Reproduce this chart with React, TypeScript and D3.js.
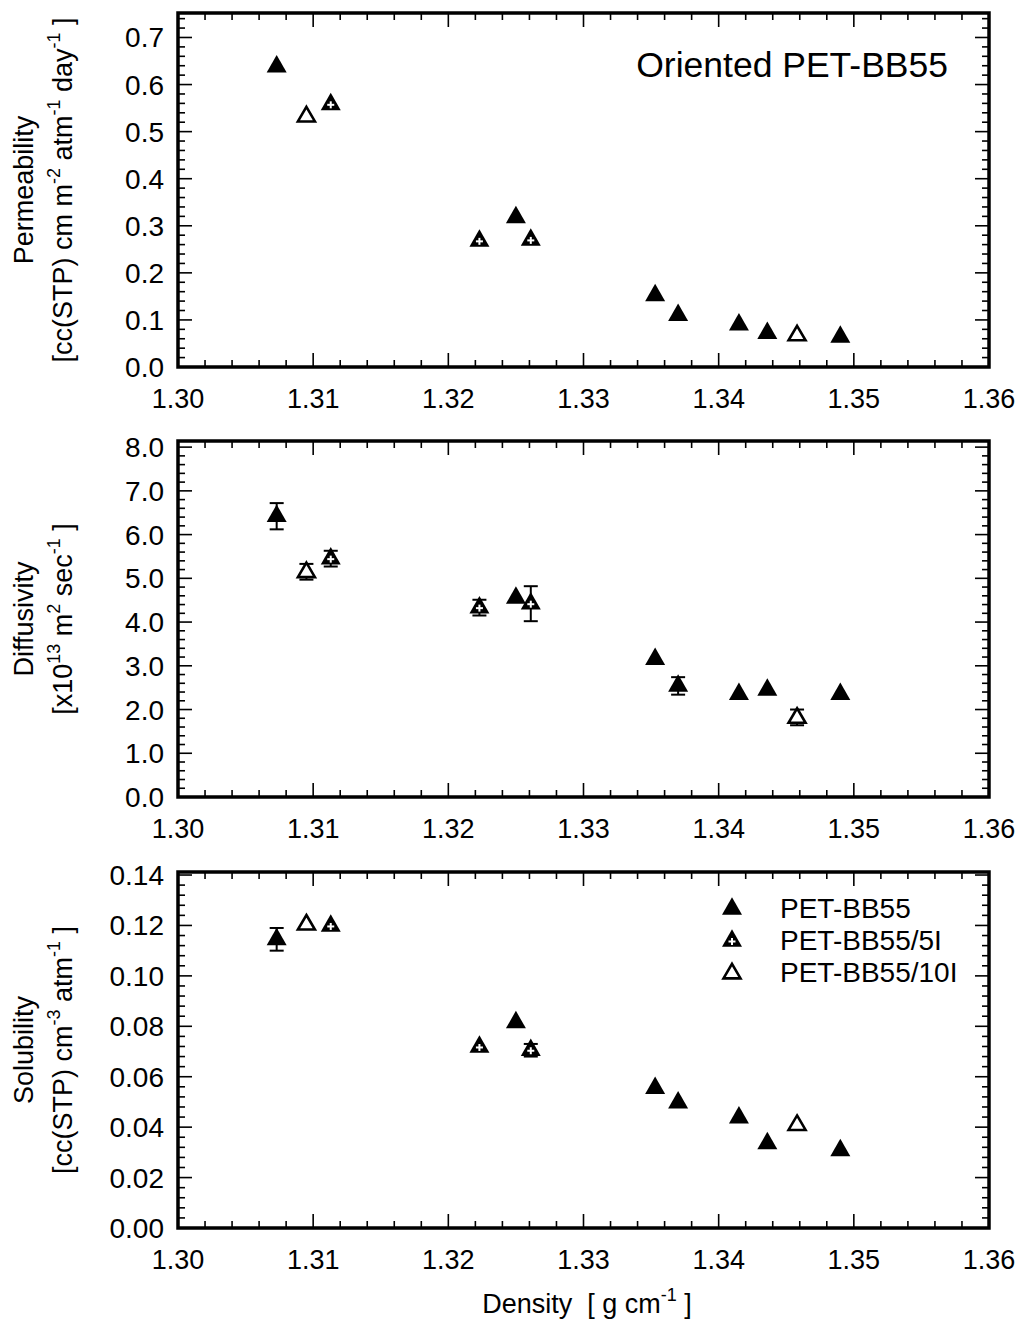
import React from "react";
import * as d3 from "d3";

// ---------- data ----------
const densityBB55 = [1.3073, 1.325, 1.3353, 1.337, 1.3415, 1.3436, 1.349];
const density5I = [1.3113, 1.3223, 1.3261];
const density10I = [1.3095, 1.3458];

const permBB55 = [0.638, 0.318, 0.152, 0.11, 0.09, 0.072, 0.064];
const perm5I = [0.558, 0.268, 0.27];
const perm10I = [0.533, 0.068];

const diffBB55 = [6.42, 4.55, 3.15, 2.54, 2.35, 2.45, 2.35];
const diffErrBB55 = [0.3, 0, 0, 0.2, 0, 0, 0];
const diff5I = [5.45, 4.33, 4.42];
const diffErr5I = [0.18, 0.18, 0.4];
const diff10I = [5.15, 1.82];
const diffErr10I = [0.18, 0.18];

const solBB55 = [0.1145, 0.0815, 0.0555, 0.0497, 0.0438, 0.0335, 0.0308];
const solErrBB55 = [0.0045, 0, 0, 0, 0, 0, 0];
const sol5I = [0.1198, 0.0718, 0.0705];
const solErr5I = [0, 0, 0.0025];
const sol10I = [0.1205, 0.041];
const solErr10I = [0, 0];

const xTicks = [1.3, 1.31, 1.32, 1.33, 1.34, 1.35, 1.36];
const permTicks = [0, 0.1, 0.2, 0.3, 0.4, 0.5, 0.6, 0.7];
const diffTicks = [0, 1, 2, 3, 4, 5, 6, 7, 8];
const solTicks = [0, 0.02, 0.04, 0.06, 0.08, 0.1, 0.12, 0.14];

const legendLabels = ["PET-BB55", "PET-BB55/5I", "PET-BB55/10I"];

// ---------- layout ----------
const W = 1018;
const H = 1322;
const LEFT = 178;
const RIGHT = 989;
const FONT = "'Liberation Sans', Arial, Helvetica, sans-serif";

const x = d3.scaleLinear().domain([1.3, 1.36]).range([LEFT, RIGHT]);

type Kind = "filled" | "cross" | "open";

function Marker({ cx, cy, kind }: { cx: number; cy: number; kind: Kind }) {
  const w = 20;
  const h = 17.5;
  const top = cy - (2 * h) / 3;
  const base = cy + h / 3;
  if (kind === "open") {
    const w2 = w - 3;
    const h2 = h - 3;
    const t2 = cy - (2 * h2) / 3 + 0.5;
    const b2 = cy + h2 / 3 + 0.5;
    return (
      <path
        d={`M${cx},${t2}L${cx + w2 / 2},${b2}L${cx - w2 / 2},${b2}Z`}
        fill="#fff"
        stroke="#000"
        strokeWidth={2.6}
        strokeLinejoin="miter"
      />
    );
  }
  return (
    <g>
      <path d={`M${cx},${top}L${cx + w / 2},${base}L${cx - w / 2},${base}Z`} fill="#000" />
      {kind === "cross" && (
        <g stroke="#fff" strokeWidth={2}>
          <line x1={cx - 3.5} x2={cx + 3.5} y1={cy + 0.5} y2={cy + 0.5} />
          <line x1={cx} x2={cx} y1={cy - 3} y2={cy + 4} />
        </g>
      )}
    </g>
  );
}

function ErrBar({ cx, y1, y2 }: { cx: number; y1: number; y2: number }) {
  return (
    <g stroke="#000" strokeWidth={2}>
      <line x1={cx} x2={cx} y1={y1} y2={y2} />
      <line x1={cx - 7} x2={cx + 7} y1={y1} y2={y1} />
      <line x1={cx - 7} x2={cx + 7} y1={y2} y2={y2} />
    </g>
  );
}

interface Series {
  xs: number[];
  ys: number[];
  errs?: number[];
  kind: Kind;
}

interface PanelProps {
  top: number;
  bottom: number;
  domainMax: number;
  ticks: number[];
  minorStep: number;
  decimals: number;
  series: Series[];
  title1: React.ReactNode;
  title2: React.ReactNode;
  children?: React.ReactNode;
}

function Panel({ top, bottom, domainMax, ticks, minorStep, decimals, series, title1, title2, children }: PanelProps) {
  const y = d3.scaleLinear().domain([0, domainMax]).range([bottom, top]);
  const majorLen = 14;
  const minorLen = 7;
  const xMinor = d3.range(1.3, 1.36 + 1e-9, 0.002);
  const yMinor = d3.range(0, domainMax + 1e-9, minorStep);
  const isMajorX = (v: number) => Math.abs(v * 100 - Math.round(v * 100)) < 1e-6;
  const isMajorY = (v: number) => ticks.some((t) => Math.abs(t - v) < minorStep * 0.1);
  const cy = (top + bottom) / 2;
  return (
    <g>
      {/* ticks */}
      <g stroke="#000" strokeWidth={1.6}>
        {xMinor.map((v, i) => {
          const len = isMajorX(v) ? majorLen : minorLen;
          const px = x(v);
          return (
            <g key={"x" + i}>
              <line x1={px} x2={px} y1={bottom} y2={bottom - len} />
              <line x1={px} x2={px} y1={top} y2={top + len} />
            </g>
          );
        })}
        {yMinor.map((v, i) => {
          const len = isMajorY(v) ? majorLen : minorLen;
          const py = y(v);
          return (
            <g key={"y" + i}>
              <line x1={LEFT} x2={LEFT + len} y1={py} y2={py} />
              <line x1={RIGHT} x2={RIGHT - len} y1={py} y2={py} />
            </g>
          );
        })}
      </g>
      <rect x={LEFT} y={top} width={RIGHT - LEFT} height={bottom - top} fill="none" stroke="#000" strokeWidth={3.5} />
      {/* tick labels */}
      <g fontFamily={FONT} fill="#000">
        {xTicks.map((t) => (
          <text key={t} x={x(t)} y={bottom + 41} textAnchor="middle" fontSize={27}>
            {t.toFixed(2)}
          </text>
        ))}
        {ticks.map((t) => (
          <text key={t} x={164} y={y(t) + 10} textAnchor="end" fontSize={28}>
            {t.toFixed(decimals)}
          </text>
        ))}
      </g>
      {/* axis titles */}
      <g fontFamily={FONT} fontSize={27} fill="#000">
        <text transform={`translate(33,${cy}) rotate(-90)`} textAnchor="middle">
          {title1}
        </text>
        <text transform={`translate(72,${cy}) rotate(-90)`} textAnchor="middle">
          {title2}
        </text>
      </g>
      {/* data */}
      {series.map((s, si) => (
        <g key={si}>
          {s.xs.map((d, i) => {
            const e = s.errs ? s.errs[i] : 0;
            return e > 0 ? <ErrBar key={"e" + i} cx={x(d)} y1={y(s.ys[i] + e)} y2={y(s.ys[i] - e)} /> : null;
          })}
          {s.xs.map((d, i) => (
            <Marker key={i} cx={x(d)} cy={y(s.ys[i])} kind={s.kind} />
          ))}
        </g>
      ))}
      {children}
    </g>
  );
}

const Sup = ({ children }: { children: React.ReactNode }) => (
  <>
    <tspan dy={-12} fontSize={18}>
      {children}
    </tspan>
    <tspan dy={12}>{"\u00A0"}</tspan>
  </>
);

export default function App() {
  const kinds: Kind[] = ["filled", "cross", "open"];
  return (
    <svg
      width={W}
      height={H}
      viewBox={`0 0 ${W} ${H}`}
      style={{ position: "absolute", left: 0, top: 0, background: "#fff" }}
    >
      <rect x={0} y={0} width={W} height={H} fill="#fff" />
      <Panel
        top={13}
        bottom={367}
        domainMax={0.752}
        ticks={permTicks}
        minorStep={0.02}
        decimals={1}
        series={[
          { xs: densityBB55, ys: permBB55, kind: "filled" },
          { xs: density5I, ys: perm5I, kind: "cross" },
          { xs: density10I, ys: perm10I, kind: "open" },
        ]}
        title1="Permeability"
        title2={
          <>
            [cc(STP) cm m<Sup>-2</Sup>atm<Sup>-1</Sup>day<Sup>-1</Sup>]
          </>
        }
      >
        <text x={948} y={77} textAnchor="end" fontFamily={FONT} fontSize={35.5} fill="#000">
          Oriented PET-BB55
        </text>
      </Panel>
      <Panel
        top={441}
        bottom={797}
        domainMax={8.14}
        ticks={diffTicks}
        minorStep={0.2}
        decimals={1}
        series={[
          { xs: densityBB55, ys: diffBB55, errs: diffErrBB55, kind: "filled" },
          { xs: density5I, ys: diff5I, errs: diffErr5I, kind: "cross" },
          { xs: density10I, ys: diff10I, errs: diffErr10I, kind: "open" },
        ]}
        title1="Diffusivity"
        title2={
          <>
            [x10<Sup>13</Sup>m<Sup>2</Sup>sec<Sup>-1</Sup>]
          </>
        }
      />
      <Panel
        top={872}
        bottom={1228}
        domainMax={0.1412}
        ticks={solTicks}
        minorStep={0.004}
        decimals={2}
        series={[
          { xs: densityBB55, ys: solBB55, errs: solErrBB55, kind: "filled" },
          { xs: density5I, ys: sol5I, errs: solErr5I, kind: "cross" },
          { xs: density10I, ys: sol10I, errs: solErr10I, kind: "open" },
        ]}
        title1="Solubility"
        title2={
          <>
            [cc(STP) cm<Sup>-3</Sup>atm<Sup>-1</Sup>]
          </>
        }
      >
        <g>
          {legendLabels.map((lab, i) => (
            <g key={lab}>
              <Marker cx={732} cy={909 + i * 32} kind={kinds[i]} />
              <text x={780} y={918 + i * 32} fontFamily={FONT} fontSize={28} fill="#000">
                {lab}
              </text>
            </g>
          ))}
        </g>
      </Panel>
      <text x={587} y={1313} textAnchor="middle" fontFamily={FONT} fontSize={27} fill="#000">
        {"Density\u00A0\u00A0[ g cm"}
        <Sup>-1</Sup>
        {"]"}
      </text>
    </svg>
  );
}
